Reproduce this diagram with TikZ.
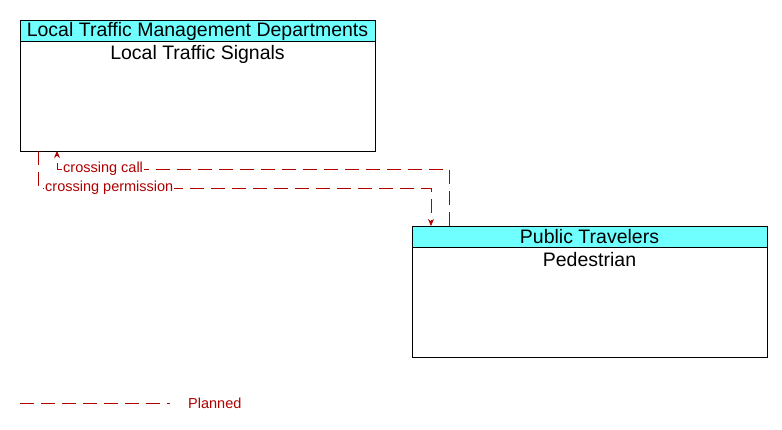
\documentclass[tikz,border=0pt]{standalone}
\usepackage{fontspec}
\setmainfont{Liberation Sans}
\usetikzlibrary{arrows.meta}
\definecolor{hdr}{RGB}{112,255,255}
\definecolor{flow}{RGB}{176,0,0}
\begin{document}
\begin{tikzpicture}[x=1pt,y=-1pt,
  box/.style={draw=black,line width=0.8pt},
  flowline/.style={draw=flow,line width=0.8pt,dash pattern=on 14pt off 7pt},
  lbl/.style={text=flow,font=\fontsize{14.5}{16}\selectfont,inner sep=1pt,fill=white},
  ttl/.style={font=\fontsize{19.5}{22}\selectfont,inner sep=0pt}]
\useasboundingbox (0,0) rectangle (782,429);
% box 1
\fill[hdr] (20,20) rectangle (375,41);
\draw[box] (20,20) rectangle (375,151);
\draw[box] (20,41) -- (375,41);
\node[ttl] (h1) at (197.5,31) {Local Traffic Management Departments};
\node[ttl] (t1) at (197.5,54) {Local Traffic Signals};
\coordinate (b1a) at (57,151);
\coordinate (b1b) at (38,151);
% box 2
\fill[hdr] (412,226) rectangle (767,247);
\draw[box] (412,226) rectangle (767,357);
\draw[box] (412,247) -- (767,247);
\node[ttl] (h2) at (589.5,237) {Public Travelers};
\node[ttl] (t2) at (589.5,260) {Pedestrian};
\coordinate (b2a) at (449,226);
\coordinate (b2b) at (431,226);
% flows
\draw[flowline,-{Stealth[length=7pt,width=6pt]}] (b2a) -- (449,169) -- (57,169) -- (b1a);
\node[lbl,anchor=west] (l1) at (62,169) {crossing call};
\draw[flowline,-{Stealth[length=7pt,width=6pt]}] (b1b) -- (38,188) -- (431,188) -- (b2b);
\node[lbl,anchor=west] (l2) at (44,188) {crossing permission};
% legend
\coordinate (lg1) at (20,403);
\coordinate (lg2) at (170,403);
\draw[flowline] (lg1) -- (lg2);
\node[text=flow,font=\fontsize{14.5}{16}\selectfont,anchor=west,inner sep=0pt] (lg) at (188,403) {Planned};
\end{tikzpicture}
\end{document}
